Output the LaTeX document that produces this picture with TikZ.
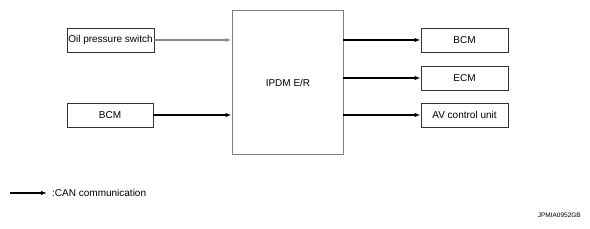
\documentclass[tikz,border=0pt]{standalone}
\usepackage{fontspec}
\setmainfont{Liberation Sans}
\usetikzlibrary{arrows.meta}
\begin{document}
\begin{tikzpicture}[x=1pt,y=1pt,
  unitbox/.style={draw=black!80,line width=0.9pt,minimum height=24pt,inner sep=0pt,font=\fontsize{10}{12}\selectfont},
  canline/.style={line width=1.8pt,-{Latex[length=6pt,width=4.5pt]}},
  sigline/.style={draw=black!45,line width=1.1pt,-{Latex[length=6pt,width=4pt,fill=black]}}]
\useasboundingbox (0,0) rectangle (590,229);
\node[unitbox,minimum width=87pt] (oil) at (110.5,189) {Oil pressure switch};
\node[unitbox,minimum width=86pt] (bcml) at (110,114) {BCM};
\node[draw=black!50,line width=0.9pt,minimum width=111pt,minimum height=144pt,inner sep=0pt] (ipdm) at (287.5,147) {};
\node[font=\fontsize{10}{12}\selectfont] (ipdmlbl) at (288,146) {IPDM E/R};
\node[unitbox,minimum width=87pt] (bcmr) at (464.5,189) {BCM};
\node[unitbox,minimum width=87pt] (ecm) at (464.5,151) {ECM};
\node[unitbox,minimum width=87pt] (av) at (464.5,114) {AV control unit};
\draw[sigline] (oil.east) -- (oil.east -| ipdm.west);
\draw[canline] (bcml.east) -- (bcml.east -| ipdm.west);
\draw[canline] (bcmr.west -| ipdm.east) -- (bcmr.west);
\draw[canline] (ecm.west -| ipdm.east) -- (ecm.west);
\draw[canline] (av.west -| ipdm.east) -- (av.west);
\coordinate (lgs) at (10,36);
\coordinate (lge) at (47,36);
\node[anchor=west,inner sep=0pt,font=\fontsize{10}{12}\selectfont] (lgt) at (52,36) {:CAN communication};
\draw[canline] (lgs) -- (lge);
\node[anchor=east,inner sep=0pt,font=\fontsize{6.5}{8}\selectfont] (code) at (581,14) {JPMIA0952GB};
\end{tikzpicture}
\end{document}
